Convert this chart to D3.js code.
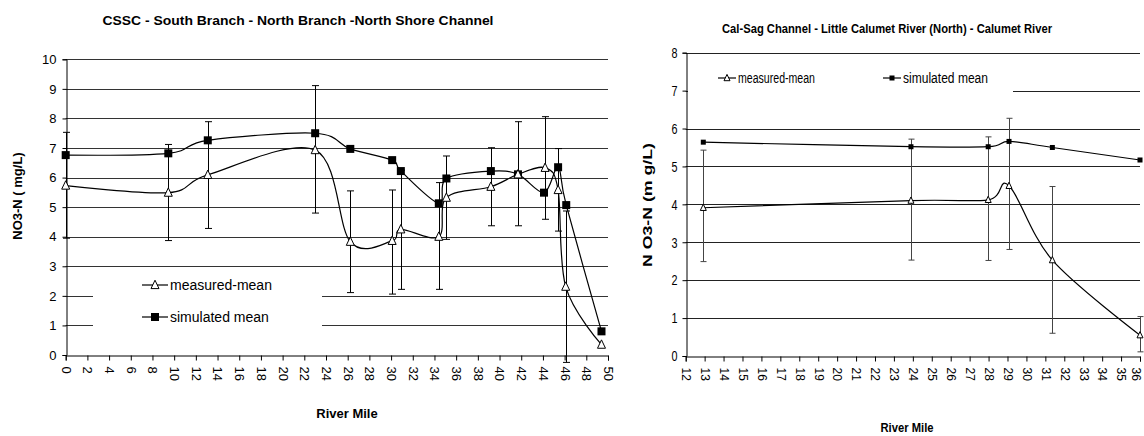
<!DOCTYPE html>
<html><head><meta charset="utf-8">
<script src="https://cdn.jsdelivr.net/npm/d3@7"></script>
<style>
body{margin:0;background:#fff;}
svg{display:block;}
text{font-family:"Liberation Sans",Arial,sans-serif;fill:#000;}
</style></head>
<body><svg id="c" width="1144" height="436"></svg>
<script>
// ---------- Left chart data ----------
const leftTitle = "CSSC - South Branch - North Branch -North Shore Channel";
const leftMeasMile = [0, 9.46, 13.1, 23.0, 26.24, 30.1, 30.9, 34.4, 35.1, 39.2, 41.7, 44.2, 45.4, 46.1, 49.4];
const leftMeasVal  = [5.73, 5.49, 6.09, 6.93, 3.83, 3.86, 4.25, 4.0, 5.32, 5.69, 6.11, 6.33, 5.58, 2.31, 0.35];
const leftMeasLow  = [3.95, 3.87, 4.28, 4.80, 2.11, 2.06, 2.22, 2.22, 3.91, 4.37, 4.37, 4.59, 4.19, -0.25, 0.35];
const leftMeasHigh = [7.53, 7.12, 7.89, 9.11, 5.55, 5.58, 6.25, 5.83, 6.73, 7.01, 7.89, 8.06, 6.98, 4.87, 0.35];
const leftSimMile  = [0, 9.46, 13.1, 23.0, 26.24, 30.1, 30.9, 34.4, 35.1, 39.2, 41.7, 44.1, 45.4, 46.15, 49.4];
const leftSimVal   = [6.76, 6.82, 7.26, 7.50, 6.97, 6.59, 6.22, 5.13, 5.97, 6.22, 6.11, 5.49, 6.35, 5.07, 0.8];
const leftXTicks = d3.range(0, 51, 2);
const leftYTicks = d3.range(0, 11, 1);

// ---------- Right chart data ----------
const rightTitle = "Cal-Sag Channel - Little Calumet River (North) - Calumet River";
const rightMeasMile = [12.93, 23.9, 27.98, 29.08, 31.37, 36.0];
const rightMeasVal  = [3.91, 4.10, 4.12, 4.49, 2.53, 0.55];
const rightMeasLow  = [2.49, 2.53, 2.52, 2.81, 0.60, 0.11];
const rightMeasHigh = [5.43, 5.72, 5.78, 6.27, 4.47, 1.04];
const rightSimMile  = [12.93, 23.9, 27.98, 29.08, 31.37, 36.0];
const rightSimVal   = [5.64, 5.52, 5.52, 5.66, 5.50, 5.17];
const rightXTicks = d3.range(12, 37, 1);
const rightYTicks = d3.range(0, 9, 1);

const legendLabels = ["measured-mean", "simulated mean"];
const xTitle = "River Mile";
const leftYTitle = "NO3-N ( mg/L)";
const rightYTitle = "N O3-N  (m g/L)";

const svg = d3.select("#c");

function zip(xs, ys){ return xs.map((x,i)=>[x, ys[i]]); }

function drawChart(cfg){
  const g = svg.append("g");
  const x = d3.scaleLinear().domain(cfg.xDomain).range(cfg.xRange);
  const y = d3.scaleLinear().domain(cfg.yDomain).range(cfg.yRange);
  const sx = cfg.sx || 1;

  // gridlines
  g.append("g").selectAll("line").data(cfg.yTicks.filter(d=>d>0)).join("line")
    .attr("x1", x.range()[0]).attr("x2", x.range()[1])
    .attr("y1", d=>Math.round(y(d))+0.5).attr("y2", d=>Math.round(y(d))+0.5)
    .attr("stroke", cfg.gridColor).attr("stroke-width", 1);

  // legend background (covers gridlines)
  const L = cfg.legend;
  g.append("rect").attr("x", L.box[0]).attr("y", L.box[1]).attr("width", L.box[2]).attr("height", L.box[3]).attr("fill", "#fff");

  // axes
  const yAxis = d3.axisLeft(y).tickValues(cfg.yTicks).tickSize(4).tickPadding(cfg.yPad).tickFormat(d3.format("d"));
  const ya = g.append("g").attr("transform", `translate(${Math.round(x.range()[0])+0.5},0)`).call(yAxis);
  ya.attr("font-family", null);
  ya.select(".domain").attr("stroke","#000");
  ya.selectAll("text").attr("font-size", cfg.yTickFont).each(function(){
    const t = d3.select(this); const xx = +t.attr("x");
    t.attr("x", 0).attr("transform", `translate(${xx},0) scale(${sx},1)`);
  });

  const xAxis = d3.axisBottom(x).tickValues(cfg.xTicks).tickSize(5).tickFormat(d3.format("d"));
  const xa = g.append("g").attr("transform", `translate(0,${Math.round(y(0))+0.5})`).call(xAxis);
  xa.attr("font-family", null);
  const maxX = 1143 - cfg.xTickFont*0.6;
  xa.selectAll(".tick text").attr("font-size", cfg.xTickFont)
    .attr("text-anchor", "start").attr("y", 0).attr("dy", "0.35em")
    .attr("transform", d => `translate(${Math.min(0, maxX - x(d))},${cfg.xLabelTop}) rotate(90)`);

  const line = d3.line().x(d=>x(d[0])).y(d=>y(d[1])).curve(d3.curveCardinal.tension(0));

  // error bars (measured)
  const eb = g.append("g").attr("stroke", cfg.errColor).attr("stroke-width", 1);
  cfg.measMile.forEach((m,i)=>{
    const lo = cfg.measLow[i], hi = cfg.measHigh[i];
    if (hi - lo < 0.05) return;
    const xp = Math.round(x(m))+0.5;
    eb.append("line").attr("x1", xp).attr("x2", xp).attr("y1", y(lo)).attr("y2", y(hi));
    eb.append("line").attr("x1", xp-cfg.cap).attr("x2", xp+cfg.cap).attr("y1", y(lo)).attr("y2", y(lo));
    eb.append("line").attr("x1", xp-cfg.cap).attr("x2", xp+cfg.cap).attr("y1", y(hi)).attr("y2", y(hi));
  });

  // lines
  g.append("path").attr("d", line(zip(cfg.simMile, cfg.simVal))).attr("fill","none").attr("stroke","#000").attr("stroke-width",1.2);
  g.append("path").attr("d", line(zip(cfg.measMile, cfg.measVal))).attr("fill","none").attr("stroke","#000").attr("stroke-width",1.2);

  // markers
  const sq = cfg.sq, tr = cfg.tri;
  const triPath = (cx, cy) => `M${cx},${cy-tr*0.6}L${cx+tr/2},${cy+tr*0.45}L${cx-tr/2},${cy+tr*0.45}Z`;
  g.append("g").selectAll("rect").data(zip(cfg.simMile, cfg.simVal)).join("rect")
    .attr("x", d=>x(d[0])-sq/2).attr("y", d=>y(d[1])-sq/2).attr("width", sq).attr("height", sq).attr("fill","#000");
  g.append("g").selectAll("path").data(zip(cfg.measMile, cfg.measVal)).join("path")
    .attr("d", d=>triPath(x(d[0]), y(d[1]))).attr("fill","#fff").attr("stroke","#000").attr("stroke-width",1);

  // legend
  L.items.forEach((it, i)=>{
    g.append("line").attr("x1", it.x).attr("x2", it.x + L.lineW).attr("y1", it.y).attr("y2", it.y).attr("stroke","#000").attr("stroke-width",1.2);
    const cx = it.x + L.lineW/2;
    if (i===0) g.append("path").attr("d", triPath(cx, it.y)).attr("fill","#fff").attr("stroke","#000");
    else g.append("rect").attr("x", cx-sq/2).attr("y", it.y-sq/2).attr("width", sq).attr("height", sq).attr("fill","#000");
    const t = g.append("text").attr("x", it.x + L.lineW + 2).attr("y", it.y).attr("dy","0.35em")
      .attr("font-size", L.font).text(legendLabels[i]);
    if (it.len) t.attr("textLength", it.len).attr("lengthAdjust","spacingAndGlyphs");
  });

  // titles
  const t = g.append("text").attr("x", cfg.title.x).attr("y", cfg.title.y).attr("text-anchor","middle")
    .attr("font-weight","bold").attr("font-size", cfg.title.size).text(cfg.title.text);
  if (cfg.title.len) t.attr("textLength", cfg.title.len).attr("lengthAdjust","spacingAndGlyphs");
  const xt = g.append("text").attr("x", cfg.xTitle.x).attr("y", cfg.xTitle.y).attr("text-anchor","middle")
    .attr("font-weight","bold").attr("font-size", cfg.xTitle.size).text(xTitle);
  if (cfg.xTitle.len) xt.attr("textLength", cfg.xTitle.len).attr("lengthAdjust","spacingAndGlyphs");
  const yt = g.append("text").attr("transform", `translate(${cfg.yTitle.x},${cfg.yTitle.y}) rotate(-90)`)
    .attr("text-anchor","middle").attr("font-weight","bold").attr("font-size", cfg.yTitle.size).text(cfg.yTitle.text);
  if (cfg.yTitle.len) yt.attr("textLength", cfg.yTitle.len).attr("lengthAdjust","spacingAndGlyphs");
}

drawChart({
  xDomain:[0,50], xRange:[65.7,608], yDomain:[0,10], yRange:[355,59.3],
  xTicks:leftXTicks, yTicks:leftYTicks, xTickFont:13, yTickFont:13, yPad:6, xLabelTop:11,
  gridColor:"#333", errColor:"#000", cap:3.5, sq:8, tri:8,
  measMile:leftMeasMile, measVal:leftMeasVal, measLow:leftMeasLow, measHigh:leftMeasHigh,
  simMile:leftSimMile, simVal:leftSimVal,
  legend:{box:[93,270,229,72], lineW:26, font:14, items:[{x:142,y:285},{x:142,y:317}]},
  title:{text:leftTitle, x:298, y:25, size:13, len:391},
  xTitle:{x:347, y:418, size:13},
  yTitle:{text:leftYTitle, x:22, y:196, size:13}
});

drawChart({
  xDomain:[12,36], xRange:[685.7,1140], yDomain:[0,8], yRange:[356,52.7],
  xTicks:rightXTicks, yTicks:rightYTicks, xTickFont:12, yTickFont:15, yPad:5, xLabelTop:11, sx:0.72,
  gridColor:"#222", errColor:"#444", cap:3, sq:5, tri:6,
  measMile:rightMeasMile, measVal:rightMeasVal, measLow:rightMeasLow, measHigh:rightMeasHigh,
  simMile:rightSimMile, simVal:rightSimVal,
  legend:{box:[688,62,325,38], lineW:18, font:14, items:[{x:718,y:78,len:77},{x:883,y:78,len:85}]},
  title:{text:rightTitle, x:887, y:33, size:12, len:330},
  xTitle:{x:907, y:432, size:12, len:53},
  yTitle:{text:rightYTitle, x:652, y:205, size:12, len:124}
});
</script></body></html>
